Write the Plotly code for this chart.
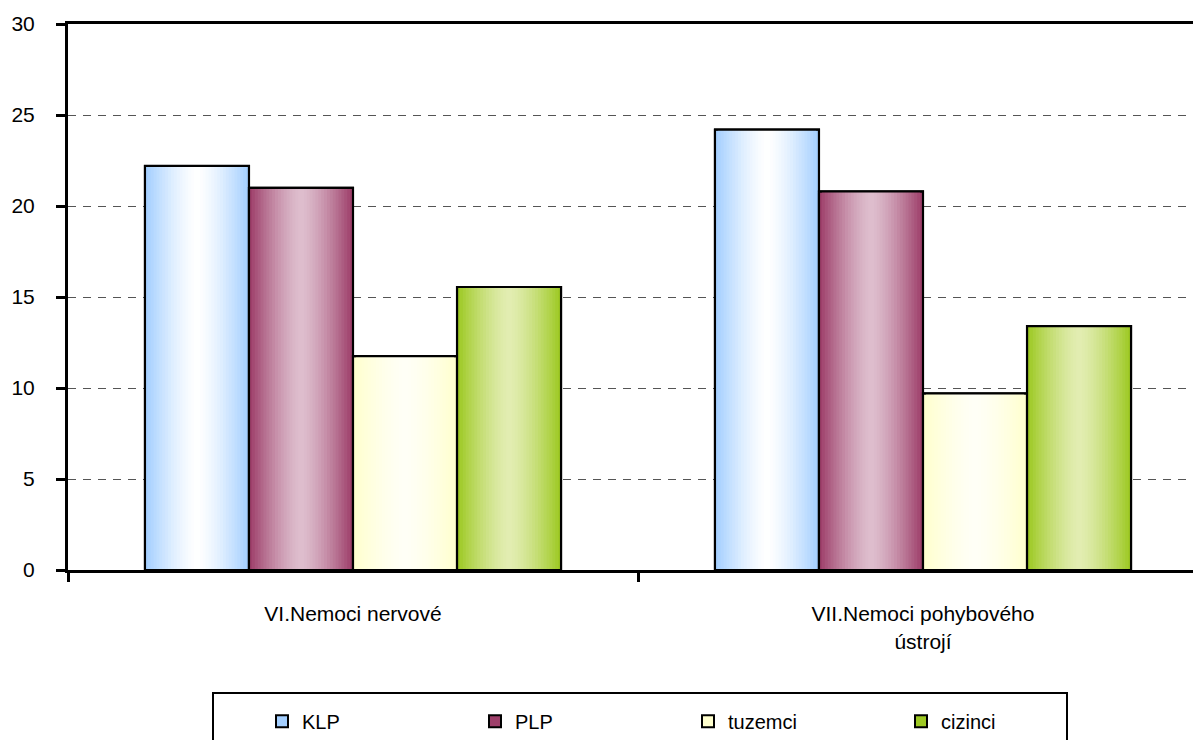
import plotly.graph_objects as go

categories = ["VI.Nemoci nervové", "VII.Nemoci pohybového<br>ústrojí"]
series_names = ["KLP", "PLP", "tuzemci", "cizinci"]
klp = [22.2, 24.2]
plp = [21.0, 20.8]
tuzemci = [11.75, 9.7]
cizinci = [15.55, 13.4]
y_ticks = [0, 5, 10, 15, 20, 25, 30]

series_values = [klp, plp, tuzemci, cizinci]
edge_colors = [(160, 205, 255), (155, 58, 102), (255, 255, 204), (155, 200, 30)]
center_colors = [(255, 255, 255), (222, 190, 206), (255, 255, 246), (226, 237, 178)]

FONT = "Liberation Sans, Arial, sans-serif"
N = 18
bar_w = 0.1825

def lerp(c1, c2, t):
    return "rgb(%d,%d,%d)" % tuple(round(a + (b - a) * t) for a, b in zip(c1, c2))

fig = go.Figure()
for i, (name, vals) in enumerate(zip(series_names, series_values)):
    base = (i - 2) * bar_w
    for k in range(N):
        frac = 1 - k / N
        s = max(frac - 0.5 / N, 0)
        g = s ** 1.4
        fig.add_trace(go.Bar(
            x=categories, y=vals, name=name,
            width=bar_w * frac, offset=base + bar_w * (1 - frac) / 2,
            marker=dict(color=lerp(center_colors[i], edge_colors[i], g),
                        line=dict(color="black", width=2 if k == 0 else 0)),
            showlegend=(k == 0), legendgroup=name, hoverinfo="skip",
        ))
    fig.add_trace(go.Bar(
        x=categories, y=vals, name=name, width=bar_w, offset=base,
        marker=dict(color="rgba(0,0,0,0)", line=dict(color="black", width=2.2)),
        showlegend=False, legendgroup=name, hoverinfo="skip",
    ))

# page body has an 8px margin
W, H = 1193, 732
ml, mt = 60, 16
plot_h = 546
mb = H - mt - plot_h
plot_w = W - ml
cat_px = 570.0

fig.update_layout(
    width=W, height=H,
    margin=dict(l=ml, r=0, t=mt, b=mb, autoexpand=False),
    paper_bgcolor="white", plot_bgcolor="white",
    barmode="overlay",
    font=dict(family=FONT, size=21, color="black"),
    xaxis=dict(
        range=[-0.5, -0.5 + plot_w / cat_px], type="category",
        showline=True, linecolor="black", linewidth=3, mirror=True,
        ticks="outside", ticklen=9, tickwidth=2.5, tickcolor="black",
        tickson="boundaries", showgrid=False, ticklabelstandoff=23,
        tickfont=dict(family=FONT, size=21),
    ),
    yaxis=dict(
        range=[0, 30], tickvals=y_ticks, ticktext=[str(v) for v in y_ticks],
        showline=True, linecolor="black", linewidth=3,
        ticks="outside", ticklen=9, tickwidth=2.5, tickcolor="black",
        showgrid=True, gridcolor="#555555", gridwidth=1, griddash="8px,7px",
        zeroline=False, ticklabelstandoff=17,
        tickfont=dict(family=FONT, size=21),
    ),
    legend=dict(
        orientation="h", x=(212 - 8 - ml) / plot_w, y=(570 - 692) / float(plot_h),
        xanchor="left", yanchor="top",
        bordercolor="black", borderwidth=2, bgcolor="white",
        font=dict(family=FONT, size=20), entrywidth=120, indentation=48,
        title=dict(text=" ", side="top", font=dict(size=6)),
        traceorder="normal", itemclick=False,
    ),
)

fig.write_html("out.html")
